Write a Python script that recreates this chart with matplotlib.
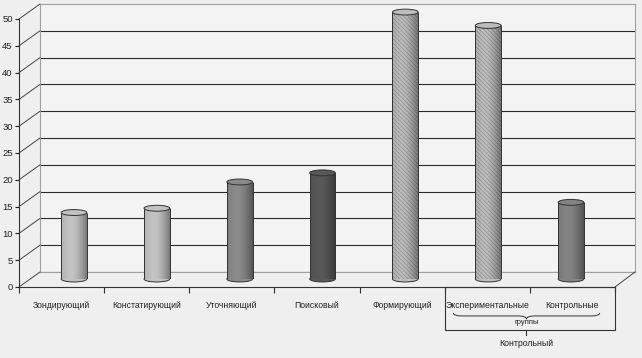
#!/usr/bin/env python3
"""
Cylinder bar chart (Excel 3D style) - stages of experiment
"""

import numpy as np
import matplotlib.pyplot as plt
import matplotlib.transforms as mtransforms
from matplotlib.patches import Ellipse, Rectangle, ConnectionPatch, PathPatch
from matplotlib.path import Path

plt.rcParams['font.family'] = ['Liberation Sans', 'DejaVu Sans']
plt.rcParams['hatch.linewidth'] = 0.45

# Data
categories = ['Зондирующий', 'Констатирующий', 'Уточняющий', 'Поисковый',
              'Формирующий', 'Экспериментальные', 'Контрольные']
values = [12.4, 13.2, 18.1, 19.8, 49.8, 47.3, 14.3]
bar_colors = ['#c2c2c2', '#c2c2c2', '#8a8a8a', '#585858', '#bdbdbd', '#bdbdbd', '#838383']
hatched = [False, False, False, False, True, True, False]
yticks = list(range(0, 55, 5))
group_label = 'группы'
stage_label = 'Контрольный'

W, H = 642, 358
fig = plt.figure(figsize=(W / 100, H / 100), dpi=100)
fig.patch.set_facecolor('#efefef')
n = len(categories)


def px_axes(x0, y0, x1, y1):
    # box given in pixels, origin top-left
    return fig.add_axes([x0 / W, 1 - y1 / H, (x1 - x0) / W, (y1 - y0) / H])


# Back wall
ax_back = px_axes(40, 4, 635, 272)
ax_back.set_xlim(0, n)
ax_back.set_ylim(0, 50)
ax_back.set_facecolor('#f3f3f3')
for v in yticks[:-1]:
    ax_back.axhline(v, color='#2b2b2b', lw=0.8)
for s in ax_back.spines.values():
    s.set_color('#a0a0a0')
    s.set_linewidth(0.8)
ax_back.set_xticks([])
ax_back.set_yticks([])
ax_back.set_zorder(0)

# Front axis (ticks + labels)
ax = px_axes(19, 19, 615, 287)
ax.set_xlim(0, n)
ax.set_ylim(0, 50)
ax.patch.set_alpha(0)
ax.spines['top'].set_visible(False)
ax.spines['right'].set_visible(False)
for s in ('left', 'bottom'):
    ax.spines[s].set_color('#333333')
    ax.spines[s].set_linewidth(0.8)
ax.set_yticks(yticks)
ax.tick_params(axis='y', length=3, width=0.8, pad=1.5, labelsize=6.8, colors='#222222')
ax.set_xticks(range(n + 1))
ax.set_xticklabels([])
ax.set_xticks(np.arange(n) + 0.5, minor=True)
ax.set_xticklabels(categories, minor=True)
ax.tick_params(axis='x', which='major', length=4, width=0.8, color='#333333')
ax.tick_params(axis='x', which='minor', length=0, pad=10, labelsize=6.2, labelcolor='#222222')
ax.set_zorder(2)

# Perspective edges: front axis -> back wall
for v in yticks:
    con = ConnectionPatch(xyA=(0, v), coordsA=ax.transData, xyB=(0, v), coordsB=ax_back.transData,
                          color='#444444', lw=0.7)
    fig.add_artist(con)
fig.add_artist(ConnectionPatch(xyA=(n, 0), coordsA=ax.transData, xyB=(n, 0), coordsB=ax_back.transData,
                               color='#444444', lw=0.7))

# Cylinders
ax_b = px_axes(32.6, 11, 612.4, 279)
ax_b.set_zorder(1)
ax_b.axis('off')
x = np.arange(n)
w = 0.31
eh = 1.1
bars = ax_b.bar(x, values, w, color=bar_colors, linewidth=0, zorder=2)

t = np.linspace(0, 1, 60)
shade = np.zeros((1, 60, 4))
shade[0, :, 3] = np.clip(0.08 * (1 - t / 0.3), 0, None) + 0.38 * np.clip((t - 0.45) / 0.55, 0, None) ** 1.5

for xi, v, c, h, b in zip(x, values, bar_colors, hatched, bars):
    if h:
        b.set_hatch('\\\\\\\\\\\\\\\\')
        b.set_edgecolor('#8a8a8a')
        b.set_linewidth(0)
    ax_b.add_patch(Ellipse((xi, 0), w, eh, fc=c, ec='#333333', lw=0.7, zorder=1, clip_on=False))
    im = ax_b.imshow(shade, extent=(xi - w / 2, xi + w / 2, 0, v), aspect='auto', zorder=3)
    im.set_clip_path(b)
    ax_b.vlines([xi - w / 2, xi + w / 2], 0, v, color='#333333', lw=0.7, zorder=4)
    ax_b.add_patch(Ellipse((xi, v), w, eh, fc=c, ec='#333333', lw=0.7, zorder=5, clip_on=False))

ax_b.set_xlim(-0.5, n - 0.5)
ax_b.set_ylim(0, 50)

# Group box under the last two categories
trans = mtransforms.blended_transform_factory(ax.transData, ax.transAxes)
ax.add_patch(Rectangle((n - 2, -0.160), 2, 0.160, transform=trans, fill=False,
                       ec='#333333', lw=0.8, clip_on=False))
mid = n - 1.04
ax.plot([mid, mid], [-0.160, -0.179], transform=trans, color='#333333', lw=0.8, clip_on=False)

# Brace
x0, x1, d = n - 1.9, n - 0.18, 0.1
yt, ym, yb = -0.097, -0.108, -0.120
verts = [(x0, yt), (x0, ym), (x0 + d, ym), (mid - d, ym), (mid, ym), (mid, yb),
         (mid, ym), (mid + d, ym), (x1 - d, ym), (x1, ym), (x1, yt)]
codes = [Path.MOVETO, Path.CURVE3, Path.CURVE3, Path.LINETO, Path.CURVE3, Path.CURVE3,
         Path.CURVE3, Path.CURVE3, Path.LINETO, Path.CURVE3, Path.CURVE3]
ax.add_patch(PathPatch(Path(verts, codes), transform=trans, fill=False, ec='#333333',
                       lw=0.7, clip_on=False))

ax.text(mid, -0.134, group_label, transform=trans, ha='center', va='center', fontsize=5.5, color='#222222')
ax.text(mid, -0.209, stage_label, transform=trans, ha='center', va='center', fontsize=6.3, color='#222222')

plt.savefig('out.png', dpi=100, facecolor=fig.get_facecolor())
print('Saved out.png')
